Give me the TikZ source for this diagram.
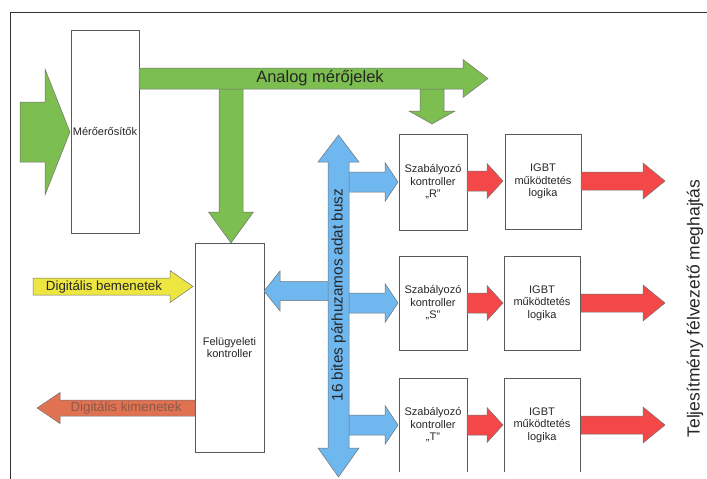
\documentclass[tikz,border=0pt]{standalone}
\usepackage{fontspec}
\setmainfont{Liberation Sans}
\definecolor{grn}{HTML}{7DBE50}
\definecolor{blu}{HTML}{6FB7EF}
\definecolor{rd}{HTML}{F44848}
\definecolor{ylw}{HTML}{EEE640}
\definecolor{org}{HTML}{E07252}
\definecolor{orgtxt}{HTML}{8B5A48}
% horizontal block arrow: [style]{x tail}{x tip}{y centre}{shaft half}{head half}{head length}
\newcommand\harrow[7][]{%
  \draw[blk,#1] (#2,{#4-#5}) -- ({#3-(#7)},{#4-#5}) -- ({#3-(#7)},{#4-#6}) -- (#3,#4)
    -- ({#3-(#7)},{#4+#6}) -- ({#3-(#7)},{#4+#5}) -- (#2,{#4+#5}) -- cycle;}
% vertical block arrow: [style]{y tail}{y tip}{x centre}{shaft half}{head half}{head length}
\newcommand\varrow[7][]{%
  \draw[blk,#1] ({#4-#5},#2) -- ({#4-#5},{#3-(#7)}) -- ({#4-#6},{#3-(#7)}) -- (#4,#3)
    -- ({#4+#6},{#3-(#7)}) -- ({#4+#5},{#3-(#7)}) -- ({#4+#5},#2) -- cycle;}
\begin{document}
\begin{tikzpicture}[x=1pt,y=-1pt,
  box/.style={draw=black!65, line width=0.5pt, fill=white, inner sep=0pt, align=center,
    font=\fontsize{11}{12.5}\selectfont, text=black!85},
  openbox/.style={box, draw=none},
  blk/.style={draw=black!55, line width=0.5pt},
  lbl/.style={inner sep=0pt, text=black!85}]
\useasboundingbox (0,0) rectangle (707,479);

% frame
\draw[black!80, line width=1pt] (10,479) -- (10,12) -- (707,12);

% blocks
\node[box, minimum width=68pt, minimum height=203pt] (mero) at (105,131.5) {Mérőerősítők};
\node[box, minimum width=69pt, minimum height=209pt] (felugy) at (229.5,347.5) {Felügyeleti\\kontroller};
\node[box, minimum width=68pt, minimum height=96pt] (szR) at (433,182) {Szabályozó\\kontroller\\„R”};
\node[box, minimum width=76pt, minimum height=95pt] (igR) at (543,181.5) {IGBT\\működtetés\\logika};
\node[box, minimum width=68pt, minimum height=94pt] (szS) at (433,303) {Szabályozó\\kontroller\\„S”};
\node[box, minimum width=76pt, minimum height=94pt] (igS) at (542,303) {IGBT\\működtetés\\logika};
\node[openbox, minimum width=68pt, minimum height=94pt] (szT) at (433,425) {Szabályozó\\kontroller\\„T”};
\node[openbox, minimum width=76pt, minimum height=94pt] (igT) at (542,425) {IGBT\\működtetés\\logika};
\draw[black!65, line width=0.5pt] (szT.south west) -- (szT.north west) -- (szT.north east) -- (szT.south east);
\draw[black!65, line width=0.5pt] (igT.south west) -- (igT.north west) -- (igT.north east) -- (igT.south east);

% analogue measurement signals (green)
\harrow[fill=grn]{20}{70}{132}{30}{63}{25}
\varrow[fill=grn]{88}{243}{231}{12}{22.5}{31}
\varrow[fill=grn]{88}{124}{432}{12}{23}{13}
\harrow[fill=grn]{139}{488}{78.5}{10.5}{19}{25}
\node[lbl, font=\fontsize{16.5}{18}\selectfont] (analog) at (320,78) {Analog mérőjelek};

% digital inputs and outputs
\harrow[fill=ylw]{33}{193}{286.5}{8.5}{16}{23}
\node[lbl, font=\fontsize{13.3}{15}\selectfont] (digin) at (104,286.5) {Digitális bemenetek};
\harrow[fill=org]{195}{37}{408}{8}{15.5}{-23}
\node[lbl, font=\fontsize{13.3}{15}\selectfont, text=orgtxt] (digout) at (126,408) {Digitális kimenetek};

% 16-bit parallel data bus (blue)
\harrow[fill=blu]{329}{264}{291}{9.5}{20}{-16}
\harrow[fill=blu]{348}{398}{182}{10}{19.5}{13}
\harrow[fill=blu]{348}{398}{303}{10}{19.5}{13}
\harrow[fill=blu]{348}{398}{425}{10}{19.5}{13}
\draw[blk, fill=blu] (328,162) -- (318,162) -- (338.5,135) -- (359,162) -- (349,162)
  -- (349,448) -- (359,448) -- (338.5,477) -- (318,448) -- (328,448) -- cycle;
\node[lbl, rotate=90, font=\fontsize{15.3}{17}\selectfont] (bus) at (338.5,295) {16 bites párhuzamos adat busz};

% drive signals (red)
\foreach \yc in {181,303,425}{
  \harrow[fill=rd]{467}{503}{\yc}{10}{17.5}{16}
  \harrow[fill=rd]{581}{665}{\yc}{9}{18}{22}
}
\node[lbl, rotate=90, font=\fontsize{17.5}{20}\selectfont] (power) at (695,308.5) {Teljesítmény félvezető meghajtás};
\end{tikzpicture}
\end{document}
